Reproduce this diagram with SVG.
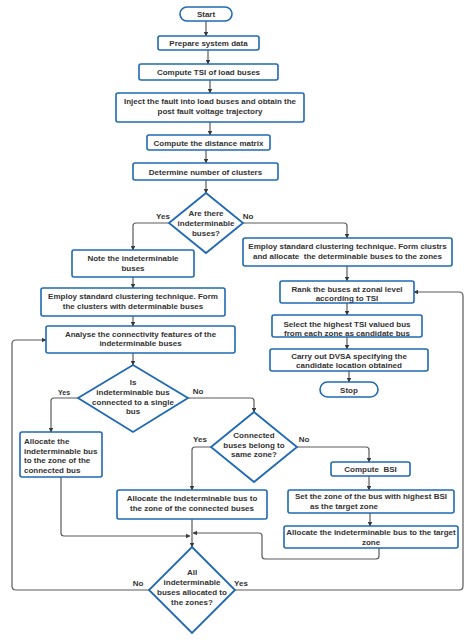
<svg xmlns="http://www.w3.org/2000/svg" width="474" height="640" viewBox="0 0 474 640">
<defs>
<marker id="ah" viewBox="0 0 10 10" refX="9" refY="5" markerWidth="4.5" markerHeight="4.5" orient="auto" markerUnits="userSpaceOnUse">
<path d="M0,0 L10,5 L0,10 z" fill="#3a3a3a"/>
</marker>
<style>
.b{fill:#fff;stroke:#1f69b4;stroke-width:1.6}
.d{fill:#fff;stroke:#1f69b4;stroke-width:1.8}
.t{font-family:"Liberation Sans",Arial,sans-serif;font-weight:bold;font-size:8px;fill:#333;text-anchor:middle}
.l{text-anchor:start}
.s{font-size:7px}
.c{fill:none;stroke:#5a5a5a;stroke-width:1.2;marker-end:url(#ah)}
.n{fill:none;stroke:#5a5a5a;stroke-width:1.2}
</style>
</defs>
<rect width="474" height="640" fill="#fff"/>
<g id="connectors">
<path class="c" d="M206,21 V36"/>
<path class="c" d="M208,50 V64"/>
<path class="c" d="M210,80 V93"/>
<path class="c" d="M210,122 V135"/>
<path class="c" d="M206,150 V163"/>
<path class="c" d="M206,180 V193"/>
<path class="c" d="M169,223 H136 Q133,223 133,226 V250"/>
<path class="c" d="M243,223 H344 Q347,223 347,226 V238"/>
<path class="c" d="M133,277 V288"/>
<path class="c" d="M133,316 V326"/>
<path class="c" d="M133,353 V365"/>
<path class="c" d="M78,398 H54 Q51,398 51,401 V432"/>
<path class="c" d="M188,398 H251 Q254,398 254,401 V412"/>
<path class="c" d="M211,447 H195 Q192,447 192,450 V490"/>
<path class="c" d="M297,447 H366 Q369,447 369,450 V462"/>
<path class="c" d="M369,476 V490"/>
<path class="c" d="M370,513 V526"/>
<path class="c" d="M61,477 V533 Q61,536 64,536 H190"/>
<path class="c" d="M192,519 V547"/>
<path class="c" d="M379,548 V556 Q379,559 376,559 H265 Q262,559 262,556 V536 Q262,533 259,533 H193"/>
<path class="c" d="M149,590 H16 Q12,590 12,586 V344 Q12,340 16,340 H46"/>
<path class="c" d="M235,590 H459 Q463,590 463,586 V296 Q463,292 459,292 H414"/>
<path class="c" d="M347,266 V281"/>
<path class="c" d="M347,303 V315"/>
<path class="c" d="M347,337 V349"/>
<path class="c" d="M349,371 V382"/>
</g>
<g id="start"><rect class="b" x="180" y="7" width="52" height="14" rx="7"/><text class="t" x="206" y="17">Start</text></g>
<g id="prepare"><rect class="b" x="158" y="36" width="101" height="14" rx="2"/><text class="t" x="208.5" y="46">Prepare system data</text></g>
<g id="tsi"><rect class="b" x="139" y="64" width="139" height="16" rx="2"/><text class="t" x="208.5" y="75">Compute TSI of load buses</text></g>
<g id="inject"><rect class="b" x="116" y="93" width="188" height="29" rx="2"/><text class="t" x="210" y="104">Inject the fault into load buses and obtain the</text><text class="t" x="210" y="114">post fault voltage trajectory</text></g>
<g id="distance"><rect class="b" x="147" y="135" width="123" height="15" rx="2"/><text class="t" x="208.5" y="146">Compute the distance matrix</text></g>
<g id="determine"><rect class="b" x="133" y="163" width="145" height="17" rx="2"/><text class="t" x="205.5" y="174.5">Determine number of clusters</text></g>
<g id="d-indet"><path class="d" d="M206,193 L243,223 L206,253 L169,223 Z"/><text class="t" x="206" y="216">Are there</text><text class="t" x="206" y="226">indeterminable</text><text class="t" x="206" y="236">buses?</text><text class="t" x="163" y="219">Yes</text><text class="t" x="248" y="219">No</text></g>
<g id="note"><rect class="b" x="72" y="250" width="122" height="27" rx="2"/><text class="t" x="133" y="261">Note the indeterminable</text><text class="t" x="133" y="270.5">buses</text></g>
<g id="employ-left"><rect class="b" x="41" y="288" width="184" height="28" rx="2"/><text class="t" x="133" y="299">Employ standard clustering technique. Form</text><text class="t" x="133" y="309">the clusters with determinable buses</text></g>
<g id="analyse"><rect class="b" x="46" y="326" width="189" height="27" rx="2"/><text class="t" x="140.5" y="337">Analyse the connectivity features of the</text><text class="t" x="140.5" y="345.5">indeterminable buses</text></g>
<g id="d-single"><path class="d" d="M133,365 L188,398 L133,432 L78,398 Z"/><text class="t" x="133" y="385">Is</text><text class="t" x="133" y="395">indeterminable bus</text><text class="t" x="133" y="405">connected to a single</text><text class="t" x="133" y="414">bus</text><text class="t s" x="64" y="394.5">Yes</text><text class="t" x="198" y="394">No</text></g>
<g id="alloc-single"><rect class="b" x="20" y="432" width="82" height="45" rx="2"/><text class="t l" x="24" y="444">Allocate the</text><text class="t l" x="24" y="453.5">indeterminable bus</text><text class="t l" x="24" y="463">to the zone of the</text><text class="t l" x="24" y="472.5">connected bus</text></g>
<g id="d-same"><path class="d" d="M254,412 L297,447 L254,482 L211,447 Z"/><text class="t" x="254" y="438">Connected</text><text class="t" x="254" y="448">buses belong to</text><text class="t" x="254" y="457">same zone?</text><text class="t" x="200" y="442">Yes</text><text class="t" x="304" y="442">No</text></g>
<g id="alloc-connected"><rect class="b" x="117" y="490" width="150" height="29" rx="2"/><text class="t" x="192" y="501">Allocate the indeterminable bus to</text><text class="t" x="192" y="511">the zone of the connected buses</text></g>
<g id="bsi"><rect class="b" x="331" y="462" width="79" height="14" rx="2"/><text class="t" x="370.5" y="472" xml:space="preserve">Compute  BSI</text></g>
<g id="set-zone"><rect class="b" x="288" y="490" width="166" height="23" rx="2"/><text class="t" x="371" y="499">Set the zone of the bus with highest BSI</text><text class="t" x="344" y="508.5">as the target zone</text></g>
<g id="alloc-target"><rect class="b" x="284" y="526" width="174" height="22" rx="2"/><text class="t" x="371" y="535">Allocate the indeterminable bus to the target</text><text class="t" x="371" y="545">zone</text></g>
<g id="d-all"><path class="d" d="M192,547 L235,590 L192,633 L149,590 Z"/><text class="t" x="192" y="575">All</text><text class="t" x="192" y="585">indeterminable</text><text class="t" x="192" y="595">buses allocated to</text><text class="t" x="192" y="605">the zones?</text><text class="t" x="138" y="586">No</text><text class="t" x="241" y="586">Yes</text></g>
<g id="employ-right"><rect class="b" x="243" y="238" width="209" height="28" rx="2"/><text class="t" x="347.5" y="249">Employ standard clustering technique. Form clustrs</text><text class="t" x="347.5" y="258.5" xml:space="preserve">and allocate  the determinable buses to the zones</text></g>
<g id="rank"><rect class="b" x="280" y="281" width="134" height="22" rx="2"/><text class="t" x="347" y="292">Rank the buses at zonal level</text><text class="t" x="347" y="301">according to TSI</text></g>
<g id="select"><rect class="b" x="272" y="315" width="150" height="22" rx="2"/><text class="t" x="347" y="327">Select the highest TSI valued bus</text><text class="t" x="347" y="335.5">from each zone as candidate bus</text></g>
<g id="carry"><rect class="b" x="270" y="349" width="158" height="22" rx="2"/><text class="t" x="349" y="359">Carry out DVSA specifying the</text><text class="t" x="349" y="368">candidate location obtained</text></g>
<g id="stop"><rect class="b" x="320" y="382" width="58" height="15" rx="7.5"/><text class="t" x="349" y="392.5">Stop</text></g>
</svg>
